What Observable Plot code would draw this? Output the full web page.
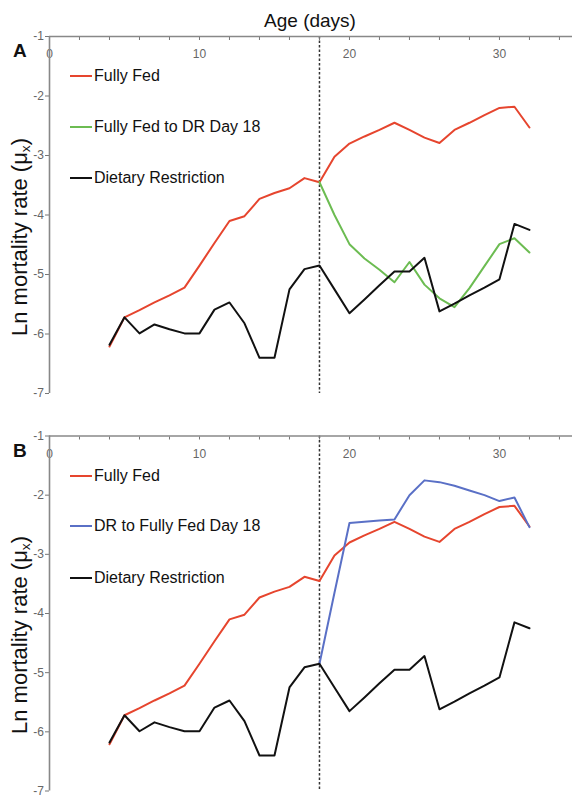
<!DOCTYPE html>
<html><head><meta charset="utf-8">
<script src="https://cdn.jsdelivr.net/npm/d3@7"></script>
<script src="https://cdn.jsdelivr.net/npm/@observablehq/plot@0.6"></script>
<style>
body{margin:0;background:#fff;}
#wrap{position:relative;width:572px;height:797px;font-family:"Liberation Sans",Arial,Helvetica,sans-serif;color:#111;overflow:hidden;background:#fff}
.abs{position:absolute;white-space:nowrap}
.panel{position:absolute;left:0}
.legtxt{font-size:16px;line-height:20px}
.sw{position:absolute;height:2px;width:22px}
.ylab{font-size:22px;line-height:24px;transform:translate(-50%,-50%) rotate(-90deg)}
.ylab sub{font-size:0.62em;vertical-align:-0.2em;line-height:0}
.letter{font-size:19px;font-weight:bold;line-height:20px}
</style></head><body><div id="wrap"></div>
<script>
// ---- data ----
const days = [4,5,6,7,8,9,10,11,12,13,14,15,16,17,18,19,20,21,22,23,24,25,26,27,28,29,30,31,32];
const switchDays = [18,19,20,21,22,23,24,25,26,27,28,29,30,31,32];
const fullyFed = [-6.21,-5.72,-5.60,-5.47,-5.35,-5.22,-4.85,-4.47,-4.10,-4.02,-3.73,-3.63,-3.55,-3.38,-3.45,-3.02,-2.80,-2.68,-2.57,-2.45,-2.57,-2.70,-2.79,-2.57,-2.45,-2.32,-2.20,-2.18,-2.53];
const dietaryRestriction = [-6.18,-5.72,-5.99,-5.84,-5.92,-5.99,-5.99,-5.59,-5.47,-5.82,-6.40,-6.40,-5.25,-4.91,-4.85,-5.25,-5.65,-5.42,-5.18,-4.95,-4.95,-4.72,-5.62,-5.49,-5.35,-5.22,-5.08,-4.15,-4.25];
const fedToDR = [-3.45,-4.00,-4.49,-4.73,-4.92,-5.13,-4.79,-5.17,-5.40,-5.55,-5.23,-4.86,-4.49,-4.39,-4.63];
const drToFed = [-4.85,-3.65,-2.47,-2.45,-2.43,-2.41,-2.00,-1.75,-1.78,-1.84,-1.92,-2.00,-2.10,-2.04,-2.54];
const xTicks = [0,2,4,6,8,10,12,14,16,18,20,22,24,26,28,30,32,34];
const xLabels = [0,10,20,30];
const yTicks = [-1,-2,-3,-4,-5,-6,-7];
const switchDay = [18];
const xDomain = [0, 34.87];
const yDomain = [-7, -1];

const RED = "#e6452e", GREEN = "#6cbc52", BLUE = "#5a70c6", BLACK = "#111111";

const panels = [
  {letter: "A", top: 0, height: 403, marginTop: 36, marginBottom: 10,
   series: [
     {name: "Fully Fed", x: days, y: fullyFed, color: RED},
     {name: "Fully Fed to DR Day 18", x: switchDays, y: fedToDR, color: GREEN},
     {name: "Dietary Restriction", x: days, y: dietaryRestriction, color: BLACK}
   ]},
  {letter: "B", top: 402, height: 395, marginTop: 33.5, marginBottom: 6.5,
   series: [
     {name: "Fully Fed", x: days, y: fullyFed, color: RED},
     {name: "DR to Fully Fed Day 18", x: switchDays, y: drToFed, color: BLUE},
     {name: "Dietary Restriction", x: days, y: dietaryRestriction, color: BLACK}
   ]}
];

const wrap = document.getElementById("wrap");
function addDiv(cls, html, style) {
  const d = document.createElement("div");
  d.className = "abs " + cls;
  d.innerHTML = html;
  Object.assign(d.style, style);
  wrap.appendChild(d);
  return d;
}

// title
addDiv("", "Age (days)", {left: "310px", top: "10px", fontSize: "19px", lineHeight: "22px", transform: "translateX(-50%)"});

const legendOffsets = [40, 90.5, 142];

panels.forEach(p => {
  const rows = p.series.flatMap(s => s.x.map((d, i) => ({day: d, value: s.y[i], series: s.name})));
  const chart = Plot.plot({
    width: 572,
    height: p.height,
    marginTop: p.marginTop,
    marginBottom: p.marginBottom,
    marginLeft: 49,
    marginRight: 0,
    style: {color: "#666", fontFamily: '"Liberation Sans", Arial, sans-serif', background: "transparent", overflow: "visible"},
    x: {domain: xDomain, axis: null},
    y: {domain: yDomain, axis: null},
    color: {domain: p.series.map(s => s.name), range: p.series.map(s => s.color)},
    marks: [
      Plot.ruleX(switchDay, {stroke: "#333", strokeWidth: 1.5, strokeDasharray: "2.5,2"}),
      Plot.axisX({anchor: "top", ticks: xTicks, tickSize: -3, tickFormat: () => "", label: null, stroke: "#777"}),
      Plot.text(xLabels, {x: d => d, frameAnchor: "top", dy: 13, fill: "#666", fontSize: 12}),
      Plot.axisY({anchor: "left", ticks: yTicks, tickSize: 4, tickPadding: 1.5, tickFormat: d => String(d), fontSize: 12, label: null, stroke: "#777", fill: "#666"}),
      Plot.ruleY([yDomain[1]], {stroke: "#888", strokeWidth: 1.6}),
      Plot.ruleX([xDomain[0]], {stroke: "#888", strokeWidth: 1.6}),
      Plot.line(rows, {x: "day", y: "value", z: "series", stroke: "series", strokeWidth: 2, strokeLinejoin: "round"})
    ]
  });
  chart.classList.add("panel");
  chart.style.position = "absolute";
  chart.style.top = p.top + "px";
  chart.style.left = "0px";
  wrap.appendChild(chart);

  const axisTop = p.top + p.marginTop;
  const plotH = p.height - p.marginTop - p.marginBottom;

  // panel letter
  addDiv("letter", p.letter, {left: "13px", top: (axisTop + 5) + "px"});
  // y label
  addDiv("ylab", "Ln mortality rate (&mu;<sub>x</sub>)", {left: "20px", top: (axisTop + plotH / 2 + 22) + "px"});
  // legend
  p.series.forEach((s, i) => {
    const cy = axisTop + legendOffsets[i];
    const sw = document.createElement("div");
    sw.className = "sw";
    Object.assign(sw.style, {left: "70px", top: (cy - 1) + "px", background: s.color});
    wrap.appendChild(sw);
    addDiv("legtxt", s.name, {left: "94px", top: (cy - 10) + "px"});
  });
});
</script></body></html>
